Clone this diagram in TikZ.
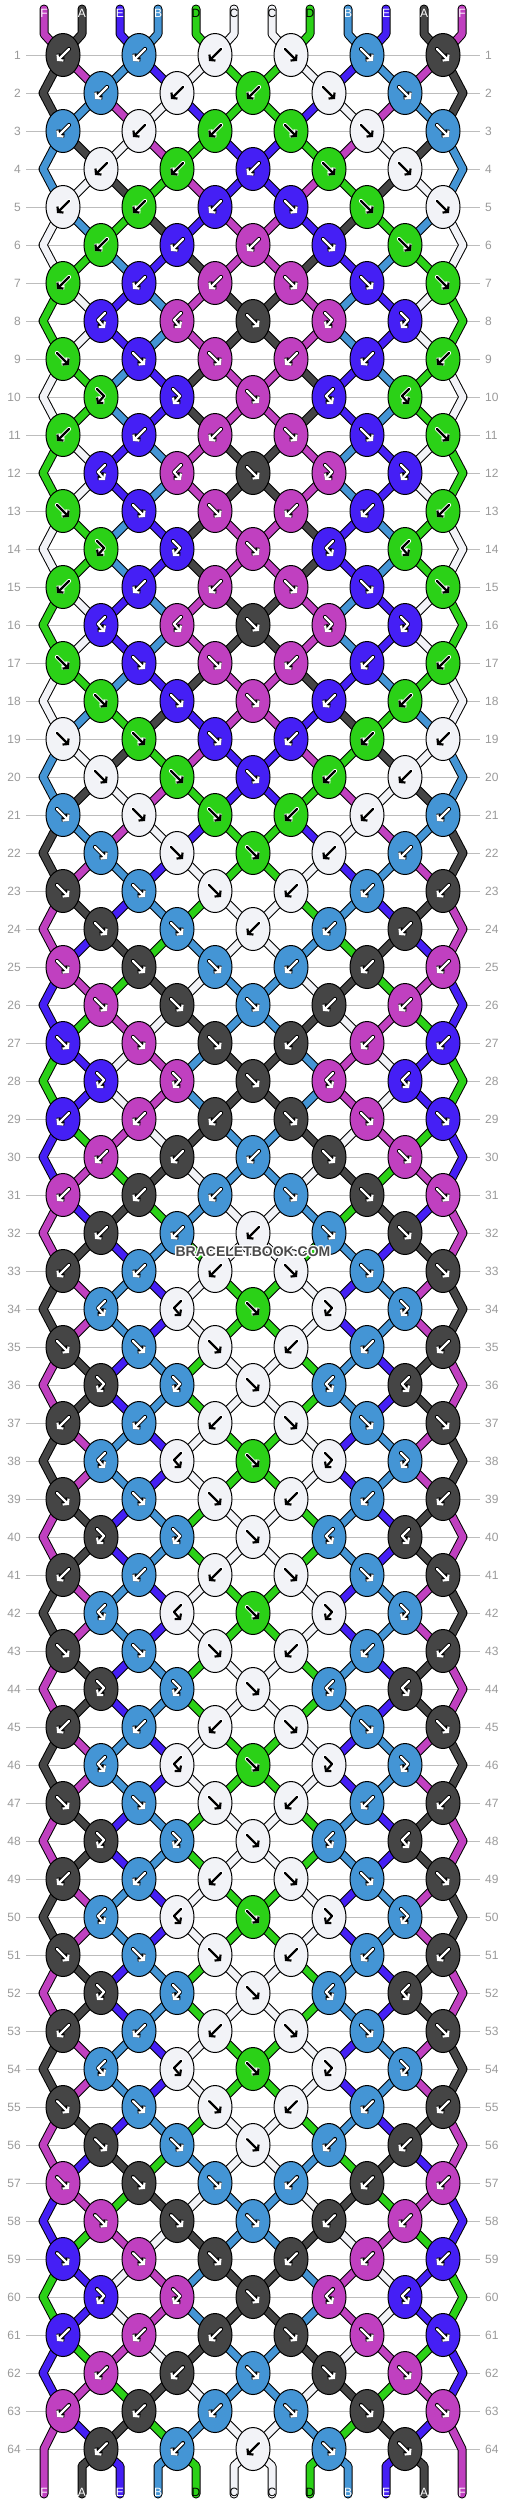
\documentclass[tikz,border=0pt]{standalone}
\usepackage{fontspec}
\setmainfont{Liberation Sans}
\usetikzlibrary{arrows.meta,shapes.geometric}
\definecolor{cA}{HTML}{454545}
\definecolor{cB}{HTML}{4495D5}
\definecolor{cC}{HTML}{F2F3F7}
\definecolor{cD}{HTML}{2BD117}
\definecolor{cE}{HTML}{451FF5}
\definecolor{cF}{HTML}{C040C0}
\colorlet{aA}{white}\colorlet{oA}{black}
\colorlet{aB}{white}\colorlet{oB}{black}
\colorlet{aC}{black}\colorlet{oC}{white}
\colorlet{aD}{black}\colorlet{oD}{white}
\colorlet{aE}{white}\colorlet{oE}{black}
\colorlet{aF}{white}\colorlet{oF}{black}
\colorlet{tA}{white}\colorlet{tB}{white}\colorlet{tC}{black}
\colorlet{tD}{black}\colorlet{tE}{white}\colorlet{tF}{white}
\definecolor{gridgrey}{HTML}{BDBDBD}
\definecolor{lblgrey}{HTML}{9A9A9A}
\definecolor{wmgrey}{HTML}{4A4A4A}

\def\setS#1#2{\expandafter\xdef\csname st#1\endcsname{#2}}
\def\deft#1#2{\expandafter\gdef\csname T#1\endcsname{#2}}
\def\slotx#1#2{%
  \ifodd#1\relax
    \pgfmathtruncatemacro\sx{63+76*floor(#2/2)}%
  \else
    \ifnum#2=0 \ifnum#1=64 \def\sx{44}\else\def\sx{43}\fi
    \else\ifnum#2=11 \ifnum#1=64 \def\sx{462}\else\def\sx{463}\fi
    \else\pgfmathtruncatemacro\sx{101+76*floor((#2-1)/2)}%
    \fi\fi
  \fi}
\newcommand\drawseg[2]{%
  \draw[so] #2;%
  \draw[sc,draw=c#1] #2;}
\newcommand\drawarrow[4]{%
  \def\axs{1}\def\ahk{0}%
  \if#1b\def\axs{-1}\fi
  \if#1B\def\axs{-1}\def\ahk{1}\fi
  \if#1F\def\ahk{1}\fi
  \begin{scope}[shift={(#3,#4)}, xscale=\axs]
    \ifnum\ahk=0
      \draw[arro,draw=o#2] (-6,-6) -- (6,6);
      \draw[arri,draw=a#2] (-6,-6) -- (6,6);
    \else
      \draw[arro,draw=o#2] (-4,-8) -- (3,-1) -- (-4,7);
      \draw[arri,draw=a#2] (-4,-8) -- (3,-1) -- (-4,7);
    \fi
  \end{scope}}

\deft{1}{b,b,b,f,f,f}\deft{2}{b,b,b,f,f}\deft{3}{b,b,b,f,f,f}\deft{4}{b,b,b,f,f}
\deft{5}{b,b,b,f,f,f}\deft{6}{b,b,b,f,f}\deft{7}{b,b,b,f,f,f}\deft{8}{B,B,f,F,F}
\deft{9}{f,f,f,b,b,b}\deft{10}{F,F,f,B,B}\deft{11}{b,b,b,f,f,f}\deft{12}{B,B,f,F,F}
\deft{13}{f,f,f,b,b,b}\deft{14}{F,F,f,B,B}\deft{15}{b,b,b,f,f,f}\deft{16}{B,B,f,F,F}
\deft{17}{f,f,f,b,b,b}\deft{18}{f,f,f,b,b}\deft{19}{f,f,f,b,b,b}\deft{20}{f,f,f,b,b}
\deft{21}{f,f,f,b,b,b}\deft{22}{f,f,f,b,b}\deft{23}{f,f,f,b,b,b}\deft{24}{f,f,b,b,b}
\deft{25}{f,f,f,b,b,b}\deft{26}{f,f,f,b,b}\deft{27}{f,f,f,b,b,b}\deft{28}{F,F,f,B,B}
\deft{29}{b,b,b,f,f,f}\deft{30}{b,b,b,f,f}\deft{31}{b,b,b,f,f,f}\deft{32}{b,b,b,f,f}
\deft{33}{b,b,b,f,f,f}\deft{34}{B,B,f,F,F}\deft{35}{f,f,f,b,b,b}\deft{36}{F,F,f,B,B}
\deft{37}{b,b,b,f,f,f}\deft{38}{B,B,f,F,F}\deft{39}{f,f,f,b,b,b}\deft{40}{F,F,f,B,B}
\deft{41}{b,b,b,f,f,f}\deft{42}{B,B,f,F,F}\deft{43}{f,f,f,b,b,b}\deft{44}{F,F,f,B,B}
\deft{45}{b,b,b,f,f,f}\deft{46}{B,B,f,F,F}\deft{47}{f,f,f,b,b,b}\deft{48}{F,F,f,B,B}
\deft{49}{b,b,b,f,f,f}\deft{50}{B,B,f,F,F}\deft{51}{f,f,f,b,b,b}\deft{52}{F,F,f,B,B}
\deft{53}{b,b,b,f,f,f}\deft{54}{B,B,f,F,F}\deft{55}{f,f,f,b,b,b}\deft{56}{f,f,f,b,b}
\deft{57}{f,f,f,b,b,b}\deft{58}{f,f,f,b,b}\deft{59}{f,f,f,b,b,b}\deft{60}{F,F,f,B,B}
\deft{61}{b,b,b,f,f,f}\deft{62}{b,b,f,f,f}\deft{63}{b,b,b,f,f,f}\deft{64}{b,b,b,f,f}

\begin{document}
\begin{tikzpicture}[x=1pt,y=-1pt,
  knot/.style={ellipse, draw=black, line width=1pt, minimum width=34pt, minimum height=43pt, inner sep=0pt},
  so/.style={line width=9pt, draw=black, line cap=round, line join=round},
  sc/.style={line width=7pt, line cap=round, line join=round},
  arri/.style={line width=2.2pt, line cap=round, line join=round, -{Straight Barb[length=3.5pt,width=8.5pt]}},
  arro/.style={line width=4.2pt, line cap=round, line join=round, -{Straight Barb[length=3.5pt,width=8.5pt]}},
  gridline/.style={draw=gridgrey, line width=1pt},
  lbl/.style={font=\fontsize{12}{12}\selectfont, text=lblgrey, inner sep=0pt},
  strlbl/.style={font=\fontsize{12}{12}\selectfont, inner sep=0pt},
  wm/.style={font=\fontsize{14}{14}\selectfont\bfseries, inner sep=0pt}]
\useasboundingbox (0,0) rectangle (506,2504);
\fill[white] (0,0) rectangle (506,2504);
% grid lines and row labels
\foreach \rw in {1,...,64}{%
  \pgfmathtruncatemacro\yr{55+38*(\rw-1)}%
  \draw[gridline] (26,\yr) -- (480,\yr);
  \node[lbl,anchor=east] (ll-\rw) at (21,\yr) {\rw};
  \node[lbl,anchor=west] (lr-\rw) at (485,\yr) {\rw};
}
% slot coordinates
\foreach \rw in {1,...,64}{%
  \pgfmathtruncatemacro\yr{55+38*(\rw-1)}%
  \foreach \ii in {0,...,11}{%
    \slotx{\rw}{\ii}%
    \coordinate (p-\rw-\ii) at (\sx,\yr);
  }}
\setS{0}{F}\setS{1}{A}\setS{2}{E}\setS{3}{B}\setS{4}{D}\setS{5}{C}%
\setS{6}{C}\setS{7}{D}\setS{8}{B}\setS{9}{E}\setS{10}{A}\setS{11}{F}%
% top stubs
\foreach \ii in {0,...,11}{%
  \edef\cc{\csname st\ii\endcsname}%
  \pgfmathtruncatemacro\xs{44+38*\ii}%
  \drawseg{\cc}{(\xs,9) -- (\xs,34) -- (p-1-\ii)}%
}
\foreach \ii in {0,...,11}{%
  \edef\cc{\csname st\ii\endcsname}%
  \pgfmathtruncatemacro\xs{44+38*\ii}%
  \node[strlbl,text=t\cc] (top-\ii) at (\xs,13) {\cc};
}
% rows
\foreach \rw in {1,...,64}{%
  \pgfmathtruncatemacro\yr{55+38*(\rw-1)}%
  \pgfmathtruncatemacro\rn{\rw+1}%
  \pgfmathtruncatemacro\rnn{\rw+2}%
  \edef\tylist{\csname T\rw\endcsname}%
  % compute knots
  \foreach \kt [count=\kk from 0] in \tylist {%
    \ifodd\rw
      \pgfmathtruncatemacro\lft{2*\kk}%
    \else
      \pgfmathtruncatemacro\lft{2*\kk+1}%
    \fi
    \pgfmathtruncatemacro\rgt{\lft+1}%
    \edef\Lc{\csname st\lft\endcsname}%
    \edef\Rc{\csname st\rgt\endcsname}%
    \if\kt b\let\kc\Rc\setS{\lft}{\Rc}\setS{\rgt}{\Lc}\fi
    \if\kt f\let\kc\Lc\setS{\lft}{\Rc}\setS{\rgt}{\Lc}\fi
    \if\kt F\let\kc\Lc\fi
    \if\kt B\let\kc\Rc\fi
    \expandafter\xdef\csname kc\kk\endcsname{\kc}%
  }%
  % outgoing segments
  \foreach \ii in {0,...,11}{%
    \edef\cc{\csname st\ii\endcsname}%
    \pgfmathtruncatemacro\xs{44+38*\ii}%
    \ifnum\ii=0 \def\edge{1}\else\ifnum\ii=11 \def\edge{1}\else\def\edge{0}\fi\fi
    \ifnum\rw=64
      \ifnum\edge=0
        \drawseg{\cc}{(p-64-\ii) -- (\xs,2466) -- (\xs,2494)}%
      \fi
    \else
      \ifnum\edge=1
        \ifodd\rw
          \ifnum\rw=63
            \drawseg{\cc}{(p-63-\ii) -- (p-64-\ii) -- (\xs,2494)}%
          \else
            \drawseg{\cc}{(p-\rw-\ii) -- (p-\rn-\ii) -- (p-\rnn-\ii)}%
          \fi
        \fi
      \else
        \drawseg{\cc}{(p-\rw-\ii) -- (p-\rn-\ii)}%
      \fi
    \fi
  }%
  % draw knots
  \foreach \kt [count=\kk from 0] in \tylist {%
    \ifodd\rw
      \pgfmathtruncatemacro\kx{63+76*\kk}%
    \else
      \pgfmathtruncatemacro\kx{101+76*\kk}%
    \fi
    \edef\kc{\csname kc\kk\endcsname}%
    \node[knot,fill=c\kc] (k-\rw-\kk) at (\kx,\yr) {};
    \drawarrow{\kt}{\kc}{\kx}{\yr}%
  }%
}
% bottom labels
\foreach \ii in {0,...,11}{%
  \edef\cc{\csname st\ii\endcsname}%
  \pgfmathtruncatemacro\xs{44+38*\ii}%
  \node[strlbl,text=t\cc] (bot-\ii) at (\xs,2492) {\cc};
}
% watermark
\foreach \dx/\dy [count=\hc] in {-1/-1,-1/1,1/-1,1/1,0/-1.5,0/1.5,-1.5/0,1.5/0}{%
  \node[wm,text=white] (wmh\hc) at (253+\dx,1252+\dy) {BRACELETBOOK.COM};
}
\node[wm,text=wmgrey] (wm) at (253,1252) {BRACELETBOOK.COM};
\end{tikzpicture}
\end{document}
